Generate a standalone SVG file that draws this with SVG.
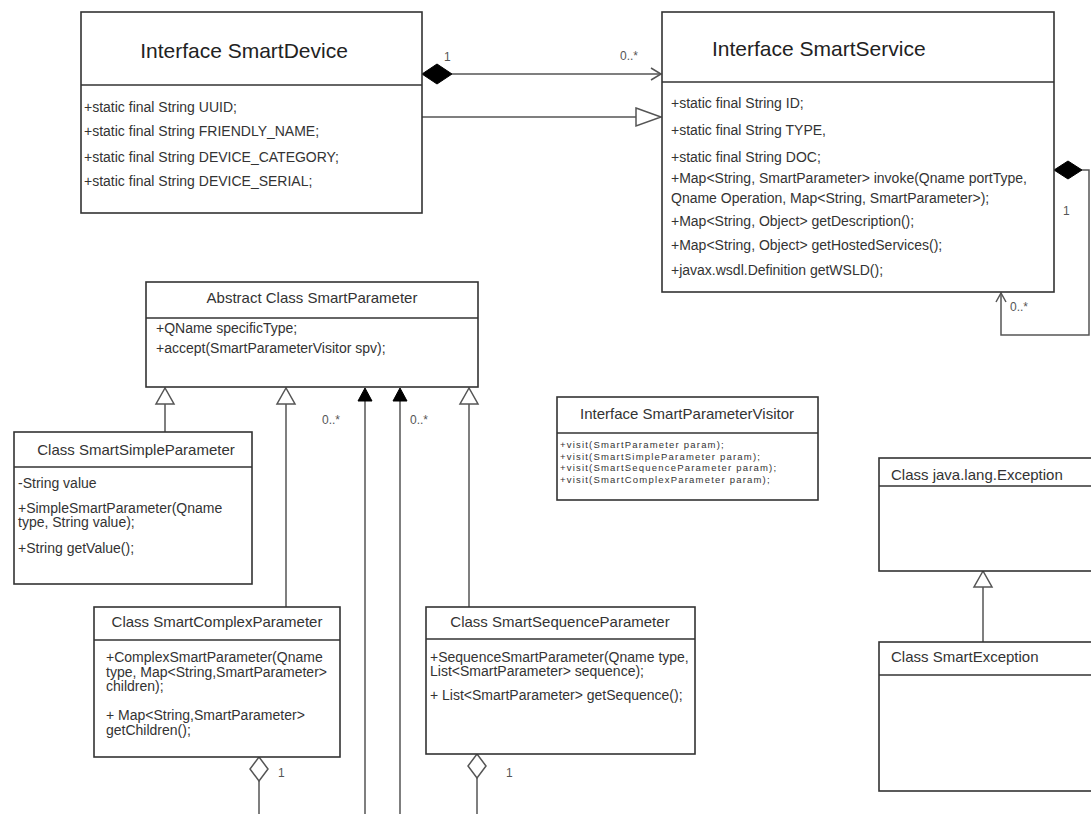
<svg xmlns="http://www.w3.org/2000/svg" width="1091" height="814" viewBox="0 0 1091 814">
<style>
.box{fill:#fff;stroke:#333;stroke-width:1.6}
.div{stroke:#333;stroke-width:1.6}
.ln{fill:none;stroke:#555;stroke-width:1.5}
.hollow{fill:#fff;stroke:#555;stroke-width:1.5}
.solid{fill:#000;stroke:#000;stroke-width:1}
text{font-family:"Liberation Sans",Arial,sans-serif;fill:#333}
.big{font-size:21px;fill:#222}
.ttl{font-size:15px}
.att{font-size:14px}
.sm{font-size:9.5px;letter-spacing:1.2px}
.lbl{font-size:12px;fill:#555}
</style>
<rect width="1091" height="814" fill="#fff"/>

<g id="connectors">
  <!-- composition SmartDevice -> SmartService -->
  <line class="ln" x1="452" y1="74" x2="661" y2="74"/>
  <polygon class="solid" points="422,74 437,64 452,74 437,84"/>
  <polyline class="ln" points="651,68 661,74 651,80"/>
  <text class="lbl" x="444" y="61">1</text>
  <text class="lbl" x="620" y="60">0..*</text>
  <!-- generalization SmartDevice -> SmartService -->
  <line class="ln" x1="422" y1="117" x2="636" y2="117"/>
  <polygon class="hollow" points="636,108 661,117 636,126"/>
  <!-- self association SmartService -->
  <polyline class="ln" points="1082,170 1089,170 1089,335 1001,335 1001,293"/>
  <polygon class="solid" points="1054,170 1068,161 1082,170 1068,179"/>
  <polyline class="ln" points="996,302 1001,293 1006,302"/>
  <text class="lbl" x="1063" y="215">1</text>
  <text class="lbl" x="1010" y="311">0..*</text>
  <!-- generalizations to SmartParameter -->
  <line class="ln" x1="165" y1="404" x2="165" y2="432"/>
  <polygon class="hollow" points="165,388 156,404 174,404"/>
  <line class="ln" x1="286" y1="404" x2="286" y2="607"/>
  <polygon class="hollow" points="286,388 277,404 295,404"/>
  <line class="ln" x1="469" y1="404" x2="469" y2="607"/>
  <polygon class="hollow" points="469,388 460,404 478,404"/>
  <!-- associations to SmartParameter -->
  <line class="ln" x1="365" y1="400" x2="365" y2="814"/>
  <polygon class="solid" points="365,388 358,401 372,401"/>
  <line class="ln" x1="400" y1="400" x2="400" y2="814"/>
  <polygon class="solid" points="400,388 393,401 407,401"/>
  <text class="lbl" x="322" y="424">0..*</text>
  <text class="lbl" x="410" y="424">0..*</text>
  <!-- aggregations -->
  <line class="ln" x1="259" y1="781" x2="259" y2="814"/>
  <polygon class="hollow" points="259,757 268,769 259,781 250,769"/>
  <text class="lbl" x="278" y="777">1</text>
  <line class="ln" x1="477" y1="778" x2="477" y2="814"/>
  <polygon class="hollow" points="477,754 486,766 477,778 468,766"/>
  <text class="lbl" x="506" y="777">1</text>
  <!-- exception generalization -->
  <line class="ln" x1="983" y1="587" x2="983" y2="642"/>
  <polygon class="hollow" points="983,571 974,587 992,587"/>
</g>

<g id="SmartDevice">
  <rect class="box" x="81" y="12" width="341" height="201"/>
  <line class="div" x1="81" y1="85" x2="422" y2="85"/>
  <text class="big" x="244" y="58" text-anchor="middle">Interface SmartDevice</text>
  <text class="att" x="84" y="112">+static final String UUID;</text>
  <text class="att" x="84" y="136">+static final String FRIENDLY_NAME;</text>
  <text class="att" x="84" y="162">+static final String DEVICE_CATEGORY;</text>
  <text class="att" x="84" y="186">+static final String DEVICE_SERIAL;</text>
</g>

<g id="SmartService">
  <rect class="box" x="662" y="12" width="392" height="280"/>
  <line class="div" x1="662" y1="82" x2="1054" y2="82"/>
  <text class="big" x="712" y="56">Interface SmartService</text>
  <text class="att" x="671" y="108">+static final String ID;</text>
  <text class="att" x="671" y="135">+static final String TYPE,</text>
  <text class="att" x="671" y="162">+static final String DOC;</text>
  <text class="att" x="671" y="183">+Map&lt;String, SmartParameter&gt; invoke(Qname portType,</text>
  <text class="att" x="671" y="203">Qname Operation, Map&lt;String, SmartParameter&gt;);</text>
  <text class="att" x="671" y="226">+Map&lt;String, Object&gt; getDescription();</text>
  <text class="att" x="671" y="250">+Map&lt;String, Object&gt;  getHostedServices();</text>
  <text class="att" x="671" y="275">+javax.wsdl.Definition getWSLD();</text>
</g>

<g id="SmartParameter">
  <rect class="box" x="146" y="282" width="332" height="105"/>
  <line class="div" x1="146" y1="318" x2="478" y2="318"/>
  <text class="ttl" x="312" y="303" text-anchor="middle">Abstract Class SmartParameter</text>
  <text class="att" x="156" y="333">+QName specificType;</text>
  <text class="att" x="156" y="353">+accept(SmartParameterVisitor spv);</text>
</g>

<g id="SmartSimpleParameter">
  <rect class="box" x="14" y="432" width="238" height="152"/>
  <line class="div" x1="14" y1="467" x2="252" y2="467"/>
  <text class="ttl" x="136" y="455" text-anchor="middle">Class SmartSimpleParameter</text>
  <text class="att" x="18" y="488">-String value</text>
  <text class="att" x="18" y="513">+SimpleSmartParameter(Qname</text>
  <text class="att" x="18" y="527">type, String value);</text>
  <text class="att" x="18" y="553">+String getValue();</text>
</g>

<g id="SmartParameterVisitor">
  <rect class="box" x="557" y="397" width="261" height="103"/>
  <line class="div" x1="557" y1="433" x2="818" y2="433"/>
  <text class="ttl" x="687" y="419" text-anchor="middle">Interface SmartParameterVisitor</text>
  <text class="sm" x="560" y="448">+visit(SmartParameter param);</text>
  <text class="sm" x="560" y="459.5">+visit(SmartSimpleParameter param);</text>
  <text class="sm" x="560" y="471">+visit(SmartSequenceParameter param);</text>
  <text class="sm" x="560" y="482.5">+visit(SmartComplexParameter param);</text>
</g>

<g id="SmartComplexParameter">
  <rect class="box" x="94" y="607" width="246" height="150"/>
  <line class="div" x1="94" y1="640" x2="340" y2="640"/>
  <text class="ttl" x="217" y="627" text-anchor="middle">Class SmartComplexParameter</text>
  <text class="att" x="106" y="662">+ComplexSmartParameter(Qname</text>
  <text class="att" x="106" y="677">type, Map&lt;String,SmartParameter&gt;</text>
  <text class="att" x="106" y="691">children);</text>
  <text class="att" x="106" y="720">+ Map&lt;String,SmartParameter&gt;</text>
  <text class="att" x="106" y="735">getChildren();</text>
</g>

<g id="SmartSequenceParameter">
  <rect class="box" x="426" y="607" width="269" height="147"/>
  <line class="div" x1="426" y1="639" x2="695" y2="639"/>
  <text class="ttl" x="560" y="627" text-anchor="middle">Class SmartSequenceParameter</text>
  <text class="att" x="430" y="662">+SequenceSmartParameter(Qname type,</text>
  <text class="att" x="430" y="676">List&lt;SmartParameter&gt; sequence);</text>
  <text class="att" x="430" y="700">+ List&lt;SmartParameter&gt; getSequence();</text>
</g>

<g id="JavaLangException">
  <rect class="box" x="879" y="458" width="220" height="113"/>
  <line class="div" x1="879" y1="486" x2="1099" y2="486"/>
  <text class="ttl" x="891" y="480">Class java.lang.Exception</text>
</g>

<g id="SmartException">
  <rect class="box" x="879" y="642" width="220" height="149"/>
  <line class="div" x1="879" y1="675" x2="1099" y2="675"/>
  <text class="ttl" x="891" y="662">Class SmartException</text>
</g>
</svg>
